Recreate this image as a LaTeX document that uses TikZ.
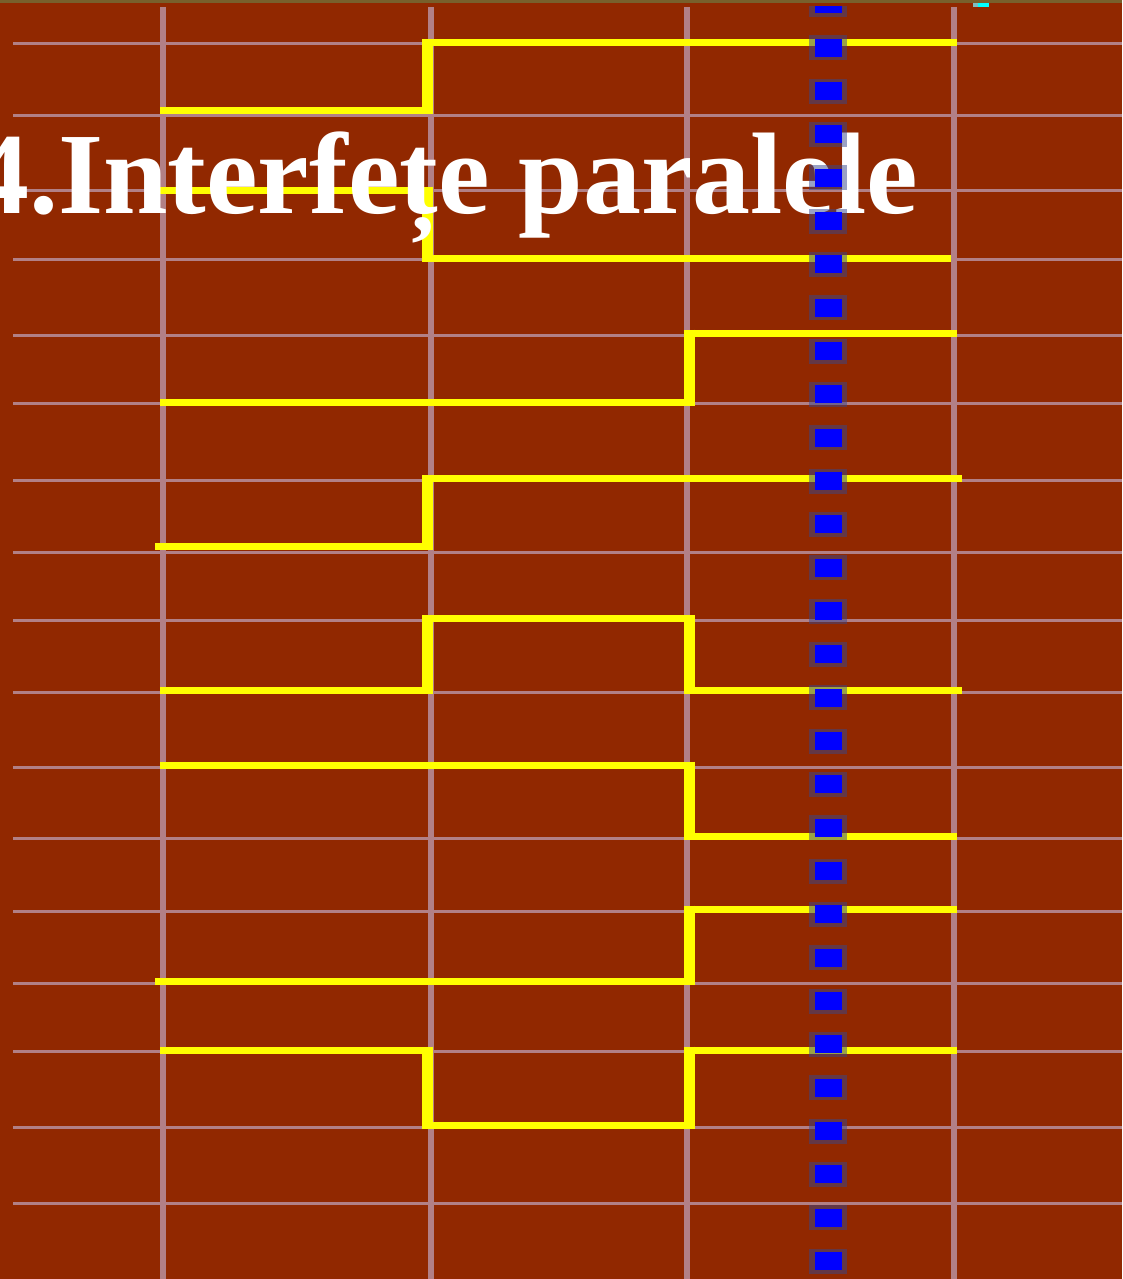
\documentclass[tikz,border=0pt]{standalone}
\usepackage{fontspec}
\setmainfont{Liberation Serif}
\definecolor{bg}{RGB}{145,40,0}
\definecolor{gridc}{RGB}{178,128,134}
\definecolor{sig}{RGB}{255,255,0}
\definecolor{topbar}{RGB}{120,96,44}
\definecolor{sqblue}{RGB}{0,0,255}
\definecolor{sqedge}{RGB}{55,70,140}
\definecolor{markc}{RGB}{0,255,255}
\definecolor{markg}{RGB}{128,190,190}
\begin{document}
\begin{tikzpicture}[x=1pt,y=-1pt,
  hgrid/.style={draw=gridc,line width=3pt},
  vgrid/.style={draw=gridc,line width=6pt},
  hsig/.style={draw=sig,line width=7pt},
  vsig/.style={draw=sig,line width=11pt},
  titlestyle/.style={anchor=base west,text=white,inner sep=0pt,
    font=\bfseries\fontsize{116}{120}\selectfont}]
\useasboundingbox (0,0) rectangle (1122,1279);
\fill[bg] (0,0) rectangle (1122,1279);
\fill[topbar] (0,0) rectangle (1122,3);
\fill[markg] (973,3) rectangle (978,7);
\fill[markc] (978,3) rectangle (989,7);
% grid
\foreach \y in {44,116,190,259,335,403,480,552,620.5,692,767,838,911,983,1051,1127,1203}
  \draw[hgrid] (13,\y) -- (1122,\y);
\foreach \x in {163,430.5,686.5,954}
  \draw[vgrid] (\x,7) -- (\x,1279);
% signal 1
\draw[hsig] (160,111) -- (427.5,111);
\draw[vsig] (427.5,39) -- (427.5,114.5);
\draw[hsig] (427.5,42.5) -- (957,42.5);
% signal 2
\draw[hsig] (160,190) -- (427.5,190);
\draw[vsig] (427.5,186.5) -- (427.5,261.5);
\draw[hsig] (427.5,258) -- (951,258);
% signal 3
\draw[hsig] (160,402) -- (689.5,402);
\draw[vsig] (689.5,329.5) -- (689.5,405.5);
\draw[hsig] (689.5,333) -- (957,333);
% signal 4
\draw[hsig] (155,546.5) -- (427.5,546.5);
\draw[vsig] (427.5,474.5) -- (427.5,550);
\draw[hsig] (427.5,478) -- (962,478);
% signal 5
\draw[hsig] (160,690.5) -- (427.5,690.5);
\draw[vsig] (427.5,615) -- (427.5,694);
\draw[hsig] (427.5,618.5) -- (689.5,618.5);
\draw[vsig] (689.5,615) -- (689.5,694);
\draw[hsig] (689.5,690.5) -- (962,690.5);
% signal 6
\draw[hsig] (160,765) -- (689.5,765);
\draw[vsig] (689.5,761.5) -- (689.5,839.5);
\draw[hsig] (689.5,836) -- (957,836);
% signal 7
\draw[hsig] (155,981) -- (689.5,981);
\draw[vsig] (689.5,905.5) -- (689.5,984.5);
\draw[hsig] (689.5,909) -- (957,909);
% signal 8
\draw[hsig] (160,1050) -- (427.5,1050);
\draw[vsig] (427.5,1046.5) -- (427.5,1128.5);
\draw[hsig] (427.5,1125) -- (689.5,1125);
\draw[vsig] (689.5,1046.5) -- (689.5,1128.5);
\draw[hsig] (689.5,1050) -- (957,1050);
% title
\node[titlestyle] (title) at (-29,213) {4.Interfețe paralele};
% dotted blue column
\begin{scope}
  \clip (0,7) rectangle (1122,1279);
  \foreach \k in {0,...,29}{
    \pgfmathsetmacro\cy{4.5+43.33*\k}
    \fill[sqedge,opacity=0.5] (809,{\cy-12.5}) rectangle (847,{\cy+12.5});
    \fill[sqblue] (815,{\cy-9}) rectangle (842,{\cy+9});
  }
\end{scope}
\end{tikzpicture}
\end{document}
